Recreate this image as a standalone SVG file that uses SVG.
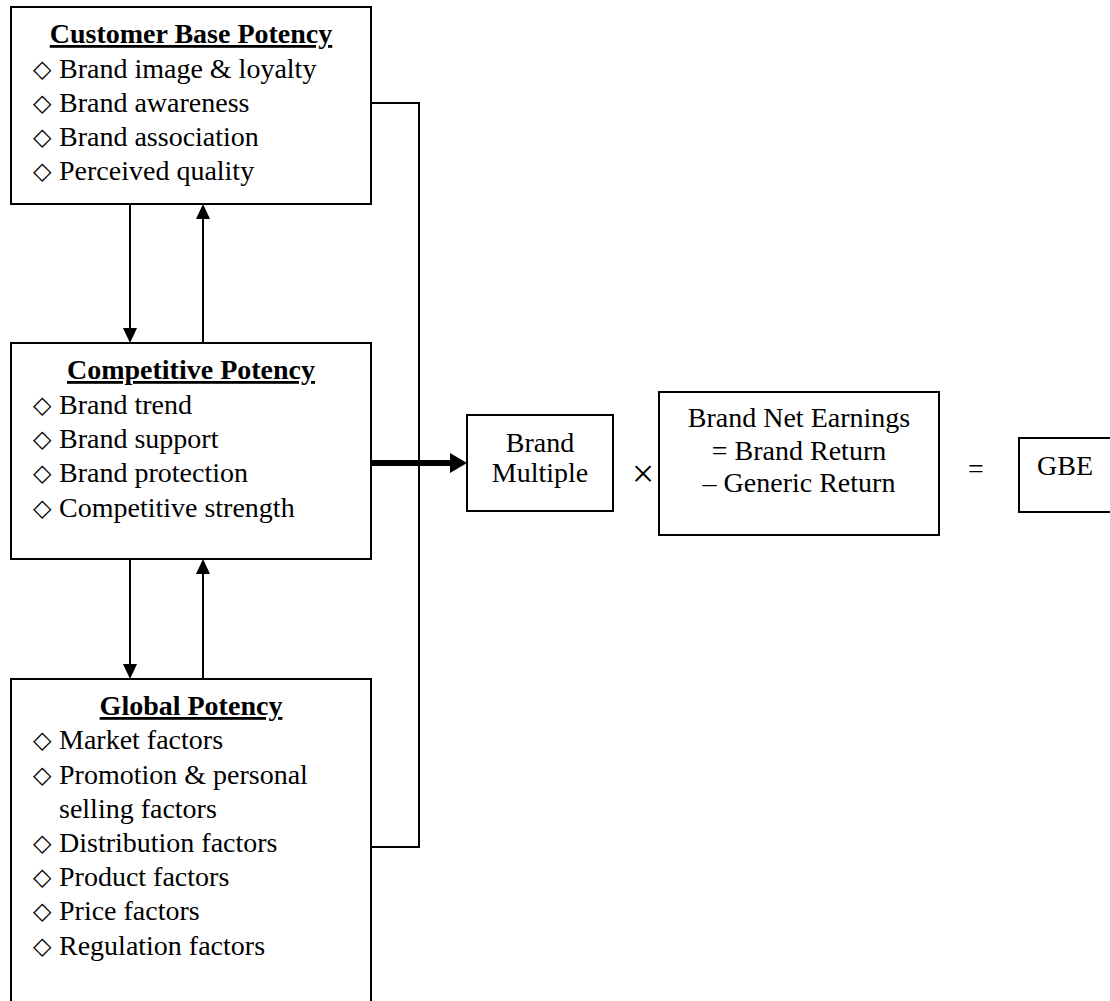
<svg xmlns="http://www.w3.org/2000/svg" width="1110" height="1001" viewBox="0 0 1110 1001">
  <style>
    .box { fill: #ffffff; stroke: #000000; stroke-width: 2; }
    .t { font-family: "Liberation Serif", "Times New Roman", serif; font-size: 28px; fill: #000000; }
    .title { font-weight: bold; text-decoration: underline; text-anchor: middle; }
    .mid { text-anchor: middle; }
    .op { font-size: 40px; }
    .dia { font-family: "DejaVu Sans", sans-serif; font-size: 24px; fill: #000000; }
    .wire { fill: none; stroke: #000000; stroke-width: 2; }
    .thick { fill: none; stroke: #000000; stroke-width: 6; }
  </style>
  <defs>
    <marker id="head" markerUnits="userSpaceOnUse" markerWidth="16" markerHeight="14" refX="10" refY="7" orient="auto">
      <path d="M0,0 L15,7 L0,14 Z" fill="#000000"/>
    </marker>
    <marker id="headBold" markerUnits="userSpaceOnUse" markerWidth="18" markerHeight="20" refX="8" refY="10" orient="auto">
      <path d="M0,0 L17,10 L0,20 Z" fill="#000000"/>
    </marker>
  </defs>

  <rect x="0" y="0" width="1110" height="1001" fill="#ffffff"/>

  <!-- connectors -->
  <g id="connectors">
    <polyline class="wire" points="371,103 419,103 419,847 371,847"/>
    <line class="thick" x1="371" y1="463" x2="458" y2="463" marker-end="url(#headBold)"/>
    <line class="wire" x1="130" y1="204" x2="130" y2="338" marker-end="url(#head)"/>
    <line class="wire" x1="203" y1="343" x2="203" y2="209" marker-end="url(#head)"/>
    <line class="wire" x1="130" y1="559" x2="130" y2="674" marker-end="url(#head)"/>
    <line class="wire" x1="203" y1="679" x2="203" y2="564" marker-end="url(#head)"/>
  </g>

  <!-- customer base potency -->
  <g id="customer-base">
    <rect class="box" x="11" y="7" width="360" height="197"/>
    <text class="t title" x="191" y="43">Customer Base Potency</text>
    <text class="dia" x="33" y="77">◇</text>
    <text class="t" x="59" y="78">Brand image &amp; loyalty</text>
    <text class="dia" x="33" y="111">◇</text>
    <text class="t" x="59" y="112">Brand awareness</text>
    <text class="dia" x="33" y="145">◇</text>
    <text class="t" x="59" y="146">Brand association</text>
    <text class="dia" x="33" y="179">◇</text>
    <text class="t" x="59" y="180">Perceived quality</text>
  </g>

  <!-- competitive potency -->
  <g id="competitive">
    <rect class="box" x="11" y="343" width="360" height="216"/>
    <text class="t title" x="191" y="379">Competitive Potency</text>
    <text class="dia" x="33" y="413">◇</text>
    <text class="t" x="59" y="414">Brand trend</text>
    <text class="dia" x="33" y="447">◇</text>
    <text class="t" x="59" y="448">Brand support</text>
    <text class="dia" x="33" y="481">◇</text>
    <text class="t" x="59" y="482">Brand protection</text>
    <text class="dia" x="33" y="516">◇</text>
    <text class="t" x="59" y="517">Competitive strength</text>
  </g>

  <!-- global potency -->
  <g id="global">
    <rect class="box" x="11" y="679" width="360" height="340"/>
    <text class="t title" x="191" y="715">Global Potency</text>
    <text class="dia" x="33" y="748">◇</text>
    <text class="t" x="59" y="749">Market factors</text>
    <text class="dia" x="33" y="783">◇</text>
    <text class="t" x="59" y="784">Promotion &amp; personal</text>
    <text class="t" x="59" y="818">selling factors</text>
    <text class="dia" x="33" y="851">◇</text>
    <text class="t" x="59" y="852">Distribution factors</text>
    <text class="dia" x="33" y="885">◇</text>
    <text class="t" x="59" y="886">Product factors</text>
    <text class="dia" x="33" y="919">◇</text>
    <text class="t" x="59" y="920">Price factors</text>
    <text class="dia" x="33" y="954">◇</text>
    <text class="t" x="59" y="955">Regulation factors</text>
  </g>

  <!-- brand multiple -->
  <g id="brand-multiple">
    <rect class="box" x="467" y="415" width="146" height="96"/>
    <text class="t mid" x="540" y="452">Brand</text>
    <text class="t mid" x="540" y="482">Multiple</text>
  </g>

  <text id="times-sign" class="t mid op" x="643" y="487">×</text>

  <!-- brand net earnings -->
  <g id="net-earnings">
    <rect class="box" x="659" y="392" width="280" height="143"/>
    <text class="t mid" x="799" y="427">Brand Net Earnings</text>
    <text class="t mid" x="799" y="460">= Brand Return</text>
    <text class="t mid" x="799" y="492">– Generic Return</text>
  </g>

  <text id="equals-sign" class="t mid" x="976" y="478">=</text>

  <!-- result -->
  <g id="gbe">
    <rect class="box" x="1019" y="438" width="100" height="74"/>
    <text class="t" x="1037" y="475">GBE</text>
  </g>
</svg>
